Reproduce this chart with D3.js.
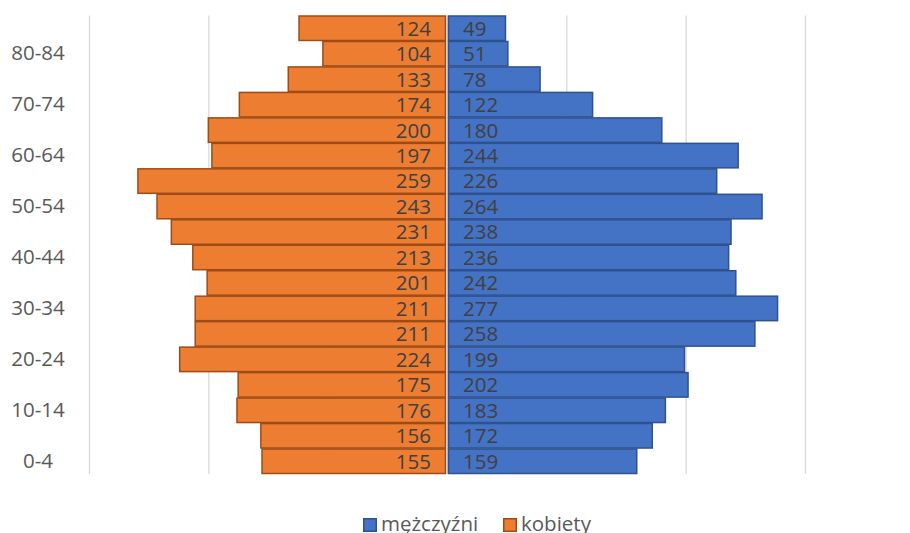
<!DOCTYPE html>
<html>
<head>
<meta charset="utf-8">
<script src="https://cdn.jsdelivr.net/npm/d3@7"></script>
<style>
  body { margin: 0; background: #fff; }
  svg { display: block; font-family: "Open Sans", sans-serif; }
</style>
</head>
<body>
<div id="chart"></div>
<script>
// age groups, bottom to top
var ages = ["0-4", "5-9", "10-14", "15-19", "20-24", "25-29", "30-34", "35-39", "40-44",
            "45-49", "50-54", "55-59", "60-64", "65-69", "70-74", "75-79", "80-84", "85+"];
var men = [159, 172, 183, 202, 199, 258, 277, 242, 236, 238, 264, 226, 244, 180, 122, 78, 51, 49];
var women = [155, 156, 176, 175, 224, 211, 211, 201, 213, 231, 243, 259, 197, 200, 174, 133, 104, 124];
var gridTicks = [-300, -200, -100, 0, 100, 200, 300];

var w = 910, h = 533;
var plotTop = 15.5, plotBottom = 474;

var svg = d3.select("#chart").append("svg")
  .attr("width", w)
  .attr("height", h);

var x = d3.scaleLinear().domain([-300, 300]).range([89, 805]);
var y = d3.scaleBand().domain(ages).range([plotBottom, plotTop]).padding(0);

// gridlines
svg.append("g")
  .attr("transform", "translate(0," + plotBottom + ")")
  .call(d3.axisBottom(x).tickValues(gridTicks).tickSize(-(plotBottom - plotTop)).tickFormat(""))
  .call(function (g) {
    g.select(".domain").remove();
    g.selectAll(".tick line").attr("stroke", "#d9d9d9").attr("stroke-width", 1.3);
  });

var x0 = x(0);
var bh = y.bandwidth();

// women (left)
svg.selectAll(".bar-w")
  .data(women)
  .enter()
  .append("rect")
  .attr("class", "bar-w")
  .attr("x", function (d) { return x(-d); })
  .attr("y", function (d, i) { return y(ages[i]) + 0.5; })
  .attr("width", function (d) { return x0 - x(-d) - 1.5; })
  .attr("height", bh - 1)
  .attr("fill", "#ed7d31")
  .attr("stroke", "#9e4c16")
  .attr("stroke-width", 1.5);

// men (right)
svg.selectAll(".bar-m")
  .data(men)
  .enter()
  .append("rect")
  .attr("class", "bar-m")
  .attr("x", x0 + 1.5)
  .attr("y", function (d, i) { return y(ages[i]) + 0.5; })
  .attr("width", function (d) { return x(d) - x0 - 1.5; })
  .attr("height", bh - 1)
  .attr("fill", "#4472c4")
  .attr("stroke", "#2f528f")
  .attr("stroke-width", 1.5);

// value labels
svg.selectAll(".lab-w")
  .data(women)
  .enter()
  .append("text")
  .attr("x", x0 - 16)
  .attr("y", function (d, i) { return y(ages[i]) + bh / 2; })
  .attr("dy", "0.36em")
  .attr("text-anchor", "end")
  .attr("font-size", "20.5px")
  .attr("fill", "#404040")
  .text(function (d) { return d; });

svg.selectAll(".lab-m")
  .data(men)
  .enter()
  .append("text")
  .attr("x", x0 + 16)
  .attr("y", function (d, i) { return y(ages[i]) + bh / 2; })
  .attr("dy", "0.36em")
  .attr("text-anchor", "start")
  .attr("font-size", "20.5px")
  .attr("fill", "#404040")
  .text(function (d) { return d; });

// age axis, every second label
svg.append("g")
  .attr("transform", "translate(38,0)")
  .call(d3.axisLeft(y).tickValues(ages.filter(function (d, i) { return i % 2 === 0; })).tickSize(0).tickPadding(0))
  .call(function (g) {
    g.select(".domain").remove();
    g.selectAll("text")
      .attr("text-anchor", "middle")
      .attr("font-family", "Open Sans, sans-serif")
      .attr("font-size", "20.5px")
      .attr("fill", "#595959");
  });

// legend
var legend = [
  { name: "mężczyźni", fill: "#4472c4", stroke: "#2f528f", x: 363 },
  { name: "kobiety", fill: "#ed7d31", stroke: "#9e4c16", x: 503 }
];
var lg = svg.selectAll(".legend")
  .data(legend)
  .enter()
  .append("g")
  .attr("transform", function (d) { return "translate(" + d.x + ",518)"; });
lg.append("rect")
  .attr("x", 0.75).attr("y", 0.75)
  .attr("width", 12.5).attr("height", 12.5)
  .attr("fill", function (d) { return d.fill; })
  .attr("stroke", function (d) { return d.stroke; })
  .attr("stroke-width", 1.5);
lg.append("text")
  .attr("x", 18)
  .attr("y", 13)
  .attr("font-size", "20.5px")
  .attr("fill", "#595959")
  .text(function (d) { return d.name; });
</script>
</body>
</html>
